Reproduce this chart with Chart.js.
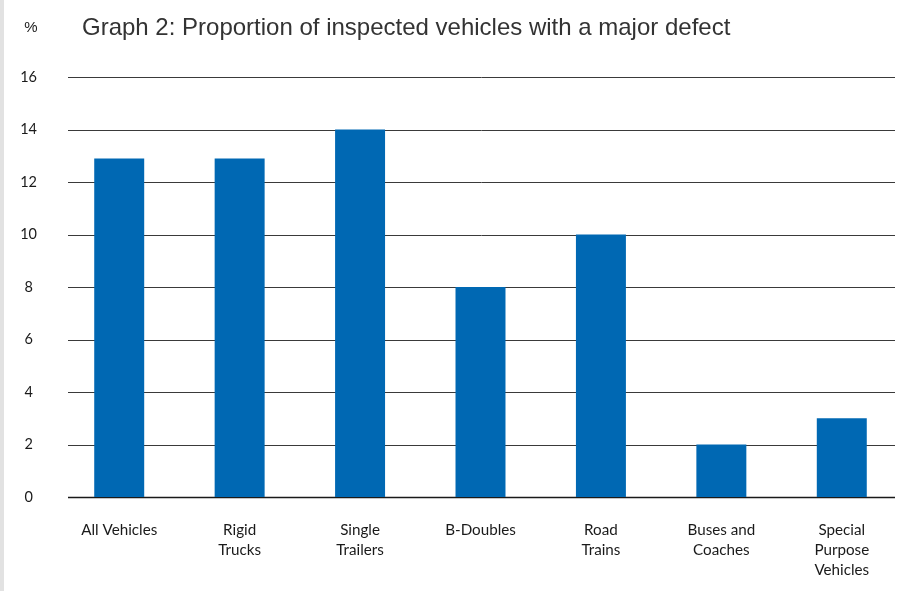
<!DOCTYPE html>
<html>
<head>
<meta charset="utf-8">
<script src="https://cdn.jsdelivr.net/npm/chart.js@4/dist/chart.umd.min.js"></script>
<style>
  html, body { margin: 0; padding: 0; background: #fff; }
  #wrap { position: relative; width: 910px; height: 591px; overflow: hidden; }
  #strip { position: absolute; left: 0; top: 0; width: 4px; height: 591px; background: #e2e2e2; }
  canvas { position: absolute; left: 0; top: 0; }
</style>
</head>
<body>
<div id="wrap">
  <canvas id="c" width="910" height="591"></canvas>
  <div id="strip"></div>
</div>
<script>
const TITLE = 'Graph 2: Proportion of inspected vehicles with a major defect';
const UNIT_LABEL = '%';
const categories = [
  'All Vehicles',
  ['Rigid', 'Trucks'],
  ['Single', 'Trailers'],
  'B-Doubles',
  ['Road', 'Trains'],
  ['Buses and', 'Coaches'],
  ['Special', 'Purpose', 'Vehicles']
];
const majorDefectPct = [12.9, 12.9, 14, 8, 10, 2, 3];
const yTicks = [0, 2, 4, 6, 8, 10, 12, 14, 16];

const gridPlugin = {
  id: 'customGrid',
  beforeDatasetsDraw(chart) {
    const ctx = chart.ctx;
    const y = chart.scales.y;
    ctx.save();
    yTicks.forEach(v => {
      const py = Math.round(y.getPixelForValue(v)) + 0.5;
      ctx.beginPath();
      ctx.lineWidth = v === 0 ? 1.3 : 1;
      ctx.strokeStyle = v === 0 ? '#1a1a1a' : '#3a3a3a';
      ctx.moveTo(68, py);
      ctx.lineTo(895, py);
      ctx.stroke();
    });
    ctx.restore();
  },
  afterDraw(chart) {
    const ctx = chart.ctx;
    ctx.save();
    ctx.fillStyle = '#333';
    ctx.textBaseline = 'alphabetic';
    ctx.textAlign = 'left';
    ctx.font = '24px "Liberation Sans", Arial, sans-serif';
    ctx.fillText(TITLE, 82, 35);
    ctx.fillStyle = '#222';
    ctx.textAlign = 'center';
    ctx.font = '15px "Liberation Sans", Arial, sans-serif';
    ctx.fillText(UNIT_LABEL, 31, 32);
    ctx.restore();
  }
};

new Chart(document.getElementById('c'), {
  type: 'bar',
  data: {
    labels: categories,
    datasets: [{
      data: majorDefectPct,
      backgroundColor: '#0068b3',
      borderWidth: 0,
      categoryPercentage: 1,
      barPercentage: 0.415
    }]
  },
  options: {
    responsive: false,
    animation: false,
    devicePixelRatio: 1,
    layout: { padding: { top: 77, right: 8, left: 0, bottom: 0 } },
    plugins: { legend: { display: false }, title: { display: false }, tooltip: { enabled: false } },
    scales: {
      x: {
        grid: { display: false, drawTicks: false },
        border: { display: false },
        ticks: {
          maxRotation: 0, minRotation: 0, autoSkip: false,
          padding: 23,
          color: '#1a1a1a',
          font: { family: 'Lato, "Open Sans", sans-serif', size: 15.2, lineHeight: 1.32 }
        },
        afterFit(scale) { scale.height = 94; }
      },
      y: {
        min: 0, max: 16,
        grid: { display: false, drawTicks: false },
        border: { display: false },
        afterBuildTicks(scale) { scale.ticks = yTicks.map(v => ({ value: v })); },
        ticks: {
          padding: 22,
          crossAlign: 'center',
          color: '#1a1a1a',
          font: { family: 'Lato, "Open Sans", sans-serif', size: 14.5 }
        },
        afterFit(scale) { scale.width = 59; }
      }
    }
  },
  plugins: [gridPlugin]
});
</script>
</body>
</html>
